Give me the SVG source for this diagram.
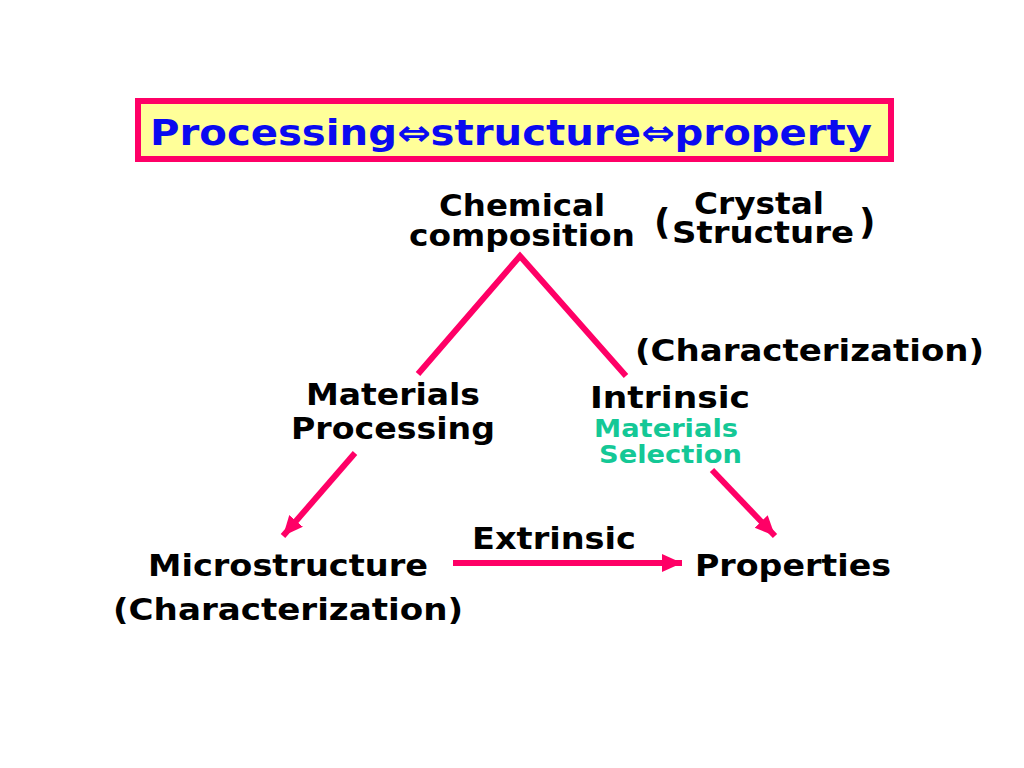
<svg xmlns="http://www.w3.org/2000/svg" width="1024" height="768" viewBox="0 0 1024 768">
<defs>
<style>
text{font-family:"DejaVu Sans","Verdana","Liberation Sans",sans-serif;font-weight:bold;fill:#000}
.t{font-size:30px}
.g{font-size:25px;fill:#14C896}
.title{font-size:35px;fill:#0A0AF0}
.ln{stroke:#FF0066;stroke-width:6;fill:none;stroke-linecap:butt}
</style>
<marker id="ah" markerUnits="userSpaceOnUse" markerWidth="22" markerHeight="20" refX="20" refY="9" orient="auto">
<path d="M0,0 L20,9 L0,18 Z" fill="#FF0066"/>
</marker>
</defs>
<rect width="1024" height="768" fill="#fff"/>
<g id="title">
<rect x="138" y="101" width="753" height="58" fill="#FFFF99" stroke="#FF0066" stroke-width="6"/>
<text class="title" x="150" y="145" textLength="722" lengthAdjust="spacingAndGlyphs">Processing⇔structure⇔property</text>
</g>
<g id="connectors">
<path class="ln" d="M418,374 L520,256 L626,376"/>
<line class="ln" x1="355" y1="453" x2="283" y2="536" marker-end="url(#ah)"/>
<line class="ln" x1="712" y1="470" x2="775" y2="536" marker-end="url(#ah)"/>
<line class="ln" x1="453" y1="563" x2="682" y2="563" marker-end="url(#ah)"/>
</g>
<g id="chemical">
<text class="t" x="522" y="216" text-anchor="middle" textLength="166" lengthAdjust="spacingAndGlyphs">Chemical</text>
<text class="t" x="522" y="246" text-anchor="middle" textLength="226" lengthAdjust="spacingAndGlyphs">composition</text>
</g>
<g id="crystal">
<text style="font-size:36px" x="654" y="234">(</text>
<text class="t" x="759" y="214" text-anchor="middle" textLength="130" lengthAdjust="spacingAndGlyphs">Crystal</text>
<text class="t" x="763" y="243" text-anchor="middle" textLength="182" lengthAdjust="spacingAndGlyphs">Structure</text>
<text style="font-size:36px" x="859" y="234">)</text>
</g>
<g id="characterization-top">
<text class="t" x="635" y="361" textLength="349" lengthAdjust="spacingAndGlyphs">(Characterization)</text>
</g>
<g id="processing">
<text class="t" x="393" y="405" text-anchor="middle" textLength="174" lengthAdjust="spacingAndGlyphs">Materials</text>
<text class="t" x="393" y="439" text-anchor="middle" textLength="204" lengthAdjust="spacingAndGlyphs">Processing</text>
</g>
<g id="intrinsic">
<text class="t" x="590" y="408" textLength="160" lengthAdjust="spacingAndGlyphs">Intrinsic</text>
<text class="g" x="594" y="437" textLength="144" lengthAdjust="spacingAndGlyphs">Materials</text>
<text class="g" x="599" y="463" textLength="143" lengthAdjust="spacingAndGlyphs">Selection</text>
</g>
<g id="extrinsic">
<text class="t" x="472" y="549" textLength="164" lengthAdjust="spacingAndGlyphs">Extrinsic</text>
</g>
<g id="microstructure">
<text class="t" x="148" y="576" textLength="280" lengthAdjust="spacingAndGlyphs">Microstructure</text>
<text class="t" x="113" y="620" textLength="350" lengthAdjust="spacingAndGlyphs">(Characterization)</text>
</g>
<g id="properties">
<text class="t" x="695" y="576" textLength="196" lengthAdjust="spacingAndGlyphs">Properties</text>
</g>
</svg>
